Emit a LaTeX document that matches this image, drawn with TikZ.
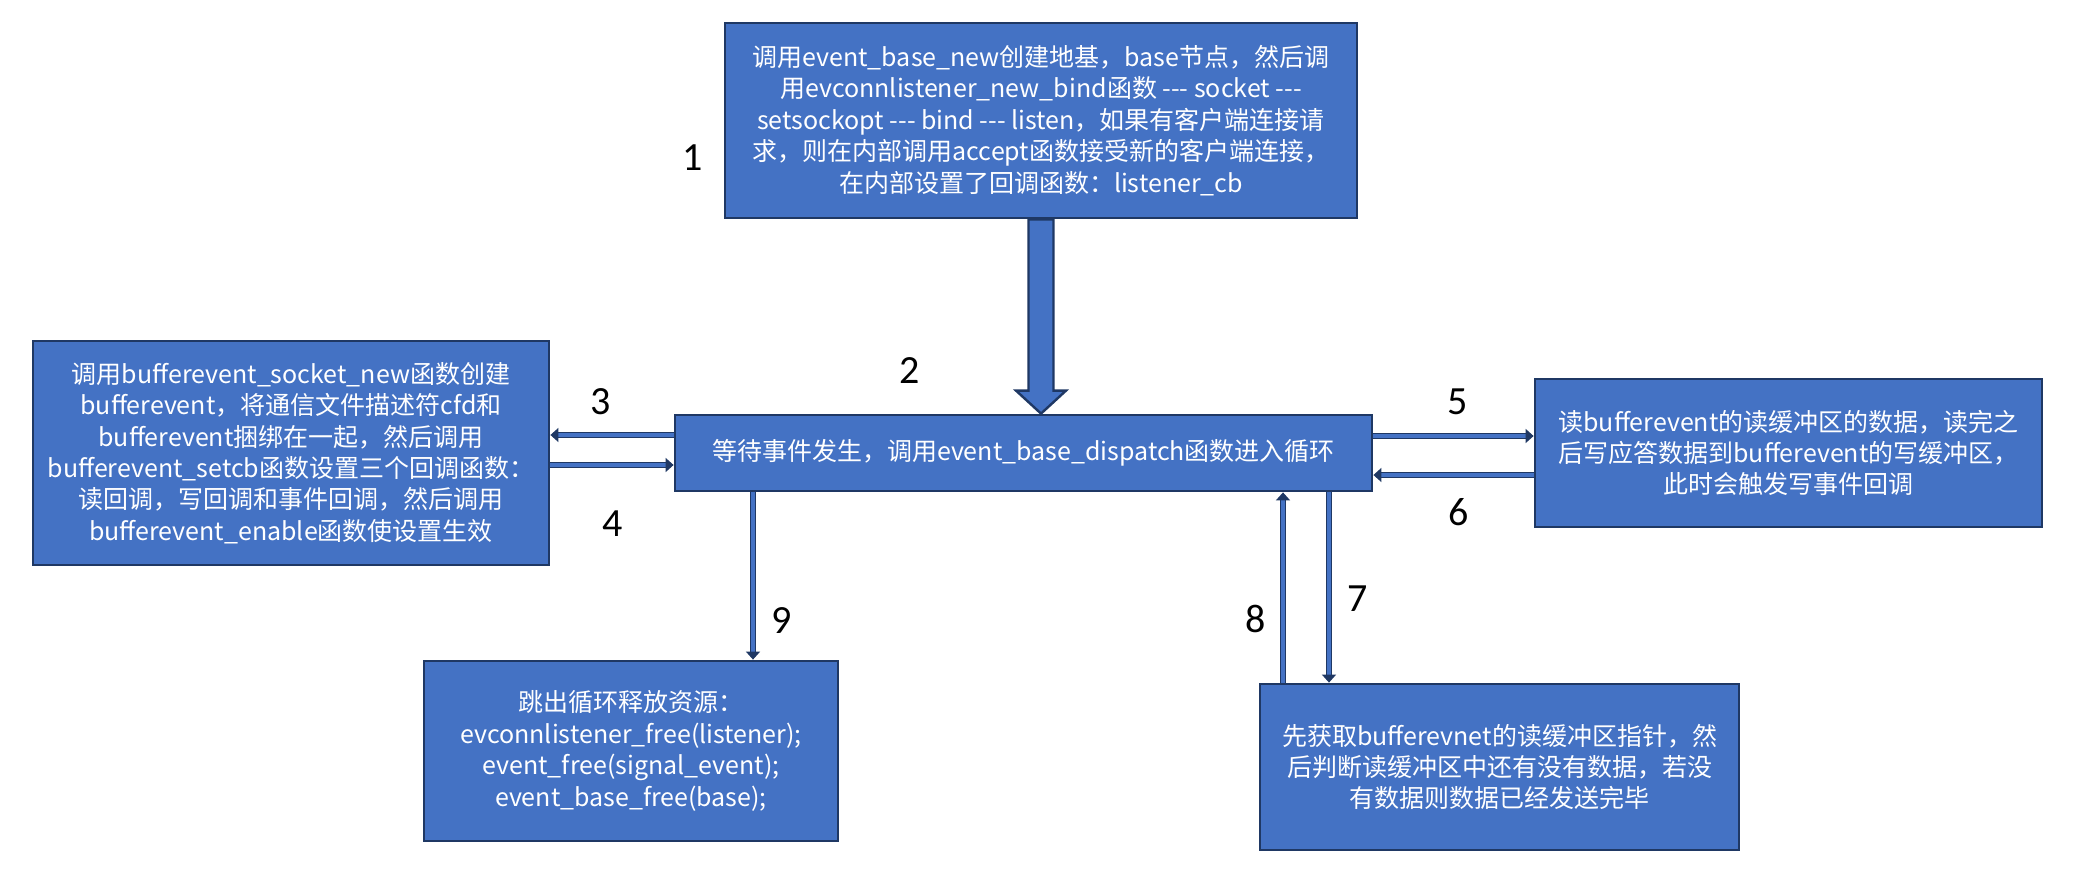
\documentclass[tikz,border=0pt]{standalone}
\usepackage{fontspec}
\setmainfont{Noto Sans CJK SC}
\newfontfamily\numfont{Carlito}
\usepackage{xcolor}
\usetikzlibrary{arrows.meta,positioning,calc}
\definecolor{boxblue}{HTML}{4472C4}
\definecolor{boxline}{HTML}{1F3864}

\begin{document}
\begin{tikzpicture}[
    x=0.5pt, y=-0.5pt,
    font=\fontsize{12.5}{15.7}\selectfont,
    box/.style={rectangle, draw=boxline, line width=1.4pt, fill=boxblue, text=white, align=center, inner sep=0pt},
    bigarrow/.style={draw=boxline, line width=1.2pt, fill=boxblue, line join=miter},
    arrow/.style={double=boxblue, draw=boxline, line width=0.7pt, double distance=1.6pt, -{Triangle[length=4pt,width=7pt]}},
    num/.style={font=\numfont\fontsize{20}{24}\selectfont},
]
\useasboundingbox (0,0) rectangle (2086,883);

\node[box, minimum width=316pt, minimum height=97.5pt] (base) at (1041,120.5)
  {调用event\_base\_new创建地基，base节点，然后调\\
   用evconnlistener\_new\_bind函数 {-}{-}{-} socket {-}{-}{-}\\
   setsockopt {-}{-}{-} bind {-}{-}{-} listen，如果有客户端连接请\\
   求，则在内部调用accept函数接受新的客户端连接，\\
   在内部设置了回调函数：listener\_cb};
\node[box, minimum width=348.5pt, minimum height=38pt] (loop) at (1023.5,453)
  {等待事件发生，调用event\_base\_dispatch函数进入循环};
\node[box, minimum width=258pt, minimum height=112pt] (bev) at (291,453)
  {调用bufferevent\_socket\_new函数创建\\
   bufferevent，将通信文件描述符cfd和\\
   bufferevent捆绑在一起，然后调用\\
   bufferevent\_setcb函数设置三个回调函数：\\
   读回调，写回调和事件回调，然后调用\\
   bufferevent\_enable函数使设置生效};
\node[box, minimum width=253.5pt, minimum height=74pt] (readcb) at (1788.5,453)
  {读bufferevent的读缓冲区的数据，读完之\\
   后写应答数据到bufferevent的写缓冲区，\\
   此时会触发写事件回调};
\node[box, minimum width=207pt, minimum height=90pt] (cleanup) at (631,751)
  {跳出循环释放资源：\\
   evconnlistener\_free(listener);\\
   event\_free(signal\_event);\\
   event\_base\_free(base);};
\node[box, minimum width=239.5pt, minimum height=83pt] (writecb) at (1499.5,767)
  {先获取bufferevnet的读缓冲区指针，然\\
   后判断读缓冲区中还有没有数据，若没\\
   有数据则数据已经发送完毕};

% step numbers
\node[num] (n1) at (693,158) {1};
\node[num] (n2) at (910,371) {2};
\node[num] (n3) at (601,402) {3};
\node[num] (n4) at (613,524) {4};
\node[num] (n5) at (1458,402) {5};
\node[num] (n6) at (1459,512) {6};
\node[num] (n7) at (1358,599) {7};
\node[num] (n8) at (1256,619) {8};
\node[num] (n9) at (782,621) {9};

% block arrow base -> loop
\coordinate (tip) at (base.south |- loop.north);
\draw[bigarrow] ($(base.south)+(-12.5,0)$) -- ($(tip)+(-12.5,-23)$) -- ($(tip)+(-25,-23)$)
  -- (tip) -- ($(tip)+(25,-23)$) -- ($(tip)+(12.5,-23)$) -- ($(base.south)+(12.5,0)$) -- cycle;

\draw[arrow] ($(loop.west)+(0,-18)$) -- ($(bev.east)+(0,-18)$);
\draw[arrow] ($(bev.east)+(0,12)$) -- ($(loop.west)+(0,12)$);
\draw[arrow] ($(loop.east)+(0,-17)$) -- ($(readcb.west)+(0,-17)$);
\draw[arrow] ($(readcb.west)+(0,22)$) -- ($(loop.east)+(0,22)$);
\draw[arrow] (loop.south -| 753,0) -- (cleanup.north -| 753,0);
\draw[arrow] (loop.south -| 1329,0) -- (writecb.north -| 1329,0);
\draw[arrow] (writecb.north -| 1283,0) -- (loop.south -| 1283,0);
\end{tikzpicture}
\end{document}
